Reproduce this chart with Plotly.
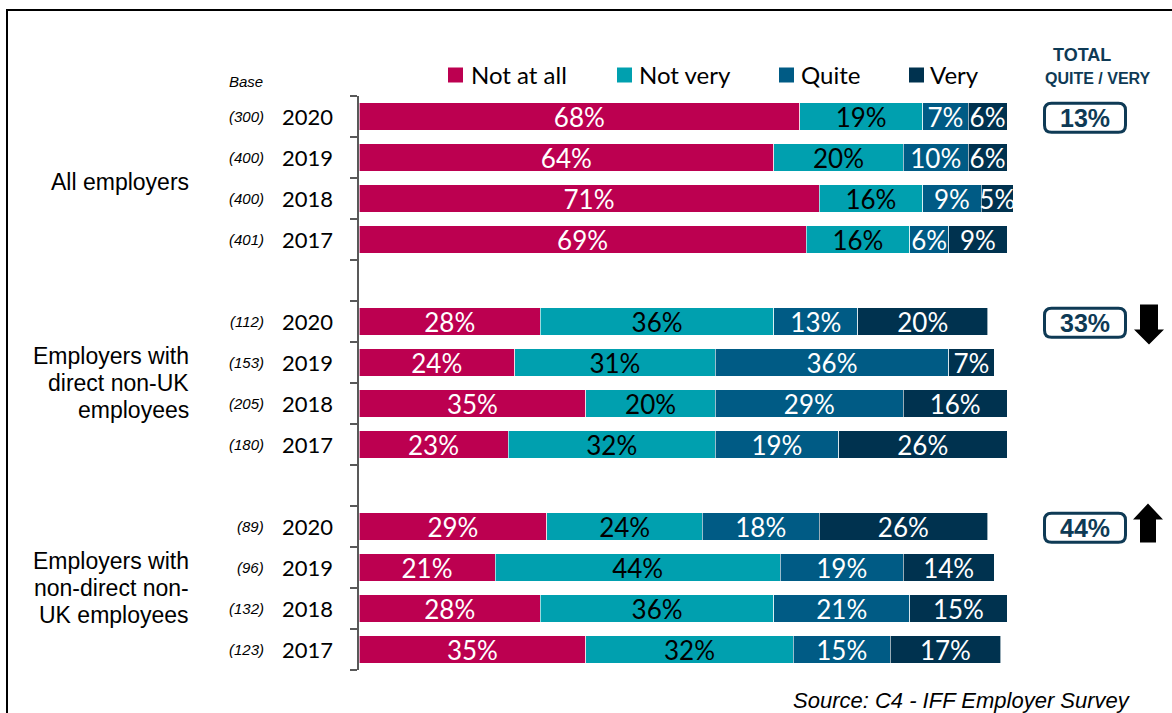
import plotly.graph_objects as go

# ---------------- data ----------------
groups = [["All employers"],
          ["Employers with", "direct non-UK", "employees"],
          ["Employers with", "non-direct non-", "UK employees"]]
years = ["2020", "2019", "2018", "2017"]
bases = [["(300)", "(400)", "(400)", "(401)"],
         ["(112)", "(153)", "(205)", "(180)"],
         ["(89)", "(96)", "(132)", "(123)"]]

categories = ["Not at all", "Not very", "Quite", "Very"]
not_at_all = [68, 64, 71, 69, 28, 24, 35, 23, 29, 21, 28, 35]
not_very = [19, 20, 16, 16, 36, 31, 20, 32, 24, 44, 36, 32]
quite = [7, 10, 9, 6, 13, 36, 29, 19, 18, 19, 21, 15]
very = [6, 6, 5, 9, 20, 7, 16, 26, 26, 14, 15, 17]
totals = ["13%", "33%", "44%"]
arrows = [None, "down", "up"]

colors = ["#BC0050", "#00A0AF", "#005B85", "#00324F"]
text_colors = ["white", "black", "white", "white"]

# ---------------- layout constants ----------------
W, H = 1172, 713
L, R, T, B = 359, 3, 96, 43
PW = W - L - R          # plot width px
PH = H - T - B          # plot height px
XMAX = PW / 6.48        # 100% = 648 px
NROWS = 14

def px_to_x(px):
    return (px - L) / 6.48

def px_to_paper_x(px):
    return (px - L) / PW

def py_to_paper_y(py):
    return (H - B - py) / PH

# row positions (blank row between groups)
ypos = []
for g in range(3):
    for i in range(4):
        ypos.append(g * 5 + i)

fig = go.Figure()
series = [not_at_all, not_very, quite, very]
for name, vals, col, tcol in zip(categories, series, colors, text_colors):
    fig.add_trace(go.Bar(
        name=name, orientation="h", x=vals, y=ypos,
        marker=dict(color=col, line=dict(color="rgba(255,255,255,0.6)", width=1)),
        text=[f"{v}%" for v in vals], textposition="inside",
        insidetextanchor="middle", constraintext="none", textangle=0,
        textfont=dict(family="Lato", size=26, color=tcol),
        showlegend=False, hoverinfo="skip",
    ))

annotations = []
shapes = []

group_shift = [-4, 0, 0]

# year labels and base labels
for g in range(3):
    for i in range(4):
        y = g * 5 + i
        annotations.append(dict(x=0, y=y, xref="x", yref="y", text=years[i],
                                showarrow=False, xanchor="right", yanchor="middle", xshift=-24,
                                font=dict(family="Lato", size=22, color="black")))
        annotations.append(dict(x=0, y=y, xref="x", yref="y", text=f"<i>{bases[g][i]}</i>",
                                showarrow=False, xanchor="right", yanchor="middle", xshift=-93,
                                font=dict(family="Liberation Sans", size=15, color="black")))
    lines = groups[g]
    n = len(lines)
    for k, line in enumerate(lines):
        annotations.append(dict(x=px_to_paper_x(191), y=g * 5 + 1.5, xref="paper", yref="y",
                                text=line, showarrow=False, xanchor="right", yanchor="middle",
                                yshift=-(k - (n - 1) / 2) * 27 + group_shift[g],
                                font=dict(family="Liberation Sans", size=23, color="black")))

annotations.append(dict(x=0, y=py_to_paper_y(82), xref="x", yref="paper", text="<i>Base</i>",
                        showarrow=False, xanchor="right", yanchor="middle", xshift=-94,
                        font=dict(family="Liberation Sans", size=15, color="black")))

# manual legend
leg_sq = [455.5, 624.5, 786.5, 916.5]
leg_tx = [469, 637, 799, 928]
leg_y = 75
for name, col, sx, tx in zip(categories, colors, leg_sq, leg_tx):
    shapes.append(dict(type="rect", xref="x", yref="paper",
                       xsizemode="pixel", ysizemode="pixel",
                       xanchor=px_to_x(sx), yanchor=py_to_paper_y(leg_y),
                       x0=-7.5, x1=7.5, y0=-7.5, y1=7.5,
                       fillcolor=col, line=dict(width=0)))
    annotations.append(dict(x=px_to_x(tx), y=py_to_paper_y(leg_y), xref="x", yref="paper",
                            text=name, showarrow=False, xanchor="left", yanchor="middle",
                            font=dict(family="Lato", size=24, color="black")))

# header for totals
navy = "#0E3A55"
box_cx = 1085
annotations.append(dict(x=px_to_x(1082), y=py_to_paper_y(55), xref="x", yref="paper",
                        text="<b>TOTAL</b>", showarrow=False, yanchor="middle",
                        font=dict(family="Liberation Sans", size=18, color=navy)))
annotations.append(dict(x=px_to_x(1098), y=py_to_paper_y(79), xref="x", yref="paper",
                        text="<b>QUITE / VERY</b>", showarrow=False, yanchor="middle",
                        font=dict(family="Liberation Sans", size=16, color=navy)))

def rounded_rect(w, h, r):
    a, b = w / 2, h / 2
    return (f"M{-a + r},{-b} L{a - r},{-b} Q{a},{-b} {a},{-b + r} "
            f"L{a},{b - r} Q{a},{b} {a - r},{b} L{-a + r},{b} "
            f"Q{-a},{b} {-a},{b - r} L{-a},{-b + r} Q{-a},{-b} {-a + r},{-b} Z")

for g in range(3):
    yrow = g * 5
    shapes.append(dict(type="path", xref="x", yref="y",
                       xsizemode="pixel", ysizemode="pixel",
                       xanchor=px_to_x(box_cx), yanchor=yrow + 0.03,
                       path=rounded_rect(81, 29, 7),
                       line=dict(color=navy, width=3), fillcolor="white"))
    annotations.append(dict(x=px_to_x(box_cx), y=yrow, xref="x", yref="y",
                            text=f"<b>{totals[g]}</b>", showarrow=False, yanchor="middle",
                            yshift=-1,
                            font=dict(family="Liberation Sans", size=25, color=navy)))
    if arrows[g] == "down":
        path = "M-9,17 L9,17 L9,-8 L15,-8 L0,-23 L-15,-8 L-9,-8 Z"
        shapes.append(dict(type="path", xref="x", yref="y", xsizemode="pixel", ysizemode="pixel",
                           xanchor=px_to_x(1149), yanchor=yrow, path=path,
                           fillcolor="black", line=dict(width=0)))
    elif arrows[g] == "up":
        path = "M-8,-16 L8,-16 L8,7 L15,7 L0,23 L-15,7 L-8,7 Z"
        shapes.append(dict(type="path", xref="x", yref="y", xsizemode="pixel", ysizemode="pixel",
                           xanchor=px_to_x(1148), yanchor=yrow, path=path,
                           fillcolor="black", line=dict(width=0)))

# source
annotations.append(dict(x=px_to_paper_x(791), y=py_to_paper_y(700), xref="paper", yref="paper",
                        text="<i>Source: C4 - IFF Employer Survey</i>", showarrow=False,
                        xanchor="left", yanchor="middle",
                        font=dict(family="Liberation Sans", size=22, color="black")))

# outer frame
shapes.append(dict(type="rect", xref="paper", yref="paper",
                   x0=px_to_paper_x(7), x1=px_to_paper_x(1190),
                   y0=py_to_paper_y(730), y1=py_to_paper_y(10),
                   line=dict(color="black", width=2), fillcolor="rgba(0,0,0,0)", layer="below"))

fig.update_layout(
    barmode="stack", bargap=0.32,
    width=W, height=H, autosize=False,
    margin=dict(l=L, r=R, t=T, b=B, autoexpand=False),
    plot_bgcolor="white", paper_bgcolor="white",
    showlegend=False,
    xaxis=dict(range=[0, XMAX], visible=False, fixedrange=True),
    yaxis=dict(range=[NROWS - 0.5, -0.5], tickvals=list(range(NROWS)), ticktext=[""] * NROWS,
               showticklabels=False, ticks="", showgrid=False, zeroline=False, fixedrange=True,
               showline=True, linecolor="#595959", linewidth=1.5,
               minor=dict(tick0=-0.5, dtick=1, ticks="outside", ticklen=7,
                          tickcolor="#595959", tickwidth=1.5, showgrid=False)),
    annotations=annotations, shapes=shapes,
)

fig.write_html("out.html", config={"displayModeBar": False},
               post_script="document.body.style.margin='0';document.body.style.overflow='hidden';")
